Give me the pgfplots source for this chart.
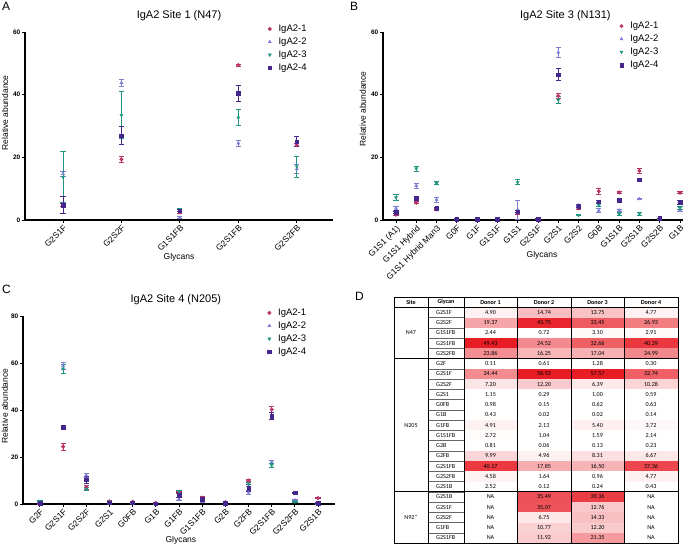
\documentclass[border=0pt]{standalone}
\usepackage{pgfplots}
\pgfplotsset{compat=1.18}
\usepackage{pgfplotstable}
\usepackage{fontspec}
\setmainfont{Liberation Sans}
\newfontfamily\tabfont{Carlito}
\definecolor{cA}{RGB}{184,52,102}
\definecolor{cB}{RGB}{125,125,212}
\definecolor{cC}{RGB}{32,150,128}
\definecolor{cD}{RGB}{68,38,140}
\definecolor{heat}{RGB}{232,28,36}

% site 1 (N47)
\pgfplotstableread{
x m1 e1 m2 e2 m3 e3 m4 e4
1 4.90 0.5 14.74 0.7 13.75 8.0 4.77 2.7
2 19.37 1.0 43.75 1.0 33.45 7.5 26.93 2.8
3 2.44 0.3 0.72 0.3 3.10 0.5 2.91 0.3
4 49.43 0.3 24.52 0.9 32.66 2.6 40.39 2.5
5 23.86 0.5 16.25 1.5 17.04 3.4 24.99 1.6
}\siteone

% site 3 (N131)
\pgfplotstableread{
x m1 e1 m2 e2 m3 e3 m4 e4
1 1.7 0.3 3.7 0.7 7.2 0.9 2.4 0.3
2 5.5 0.3 11.0 0.8 16.4 0.8 7.0 0.3
3 3.4 0.3 6.5 0.8 11.7 0.5 3.7 0.3
4 0.3 0.1 0.3 0.1 0.4 0.1 0.3 0.1
5 0.3 0.1 0.2 0.1 0.4 0.1 0.3 0.1
6 0.2 0.1 0.2 0.1 0.2 0.1 0.2 0.1
7 2.1 0.3 3.3 3.0 12.0 0.8 2.6 0.3
8 0.4 0.1 0.3 0.1 0.4 0.1 0.3 0.1
9 39.6 0.7 53.5 1.5 38.3 1.0 46.4 2.0
10 3.7 0.3 4.7 0.3 1.5 0.2 4.4 0.3
11 9.2 1.0 3.0 0.7 4.7 0.5 5.9 0.3
12 8.8 0.3 3.1 0.4 1.9 0.4 6.3 0.3
13 15.7 0.8 6.7 0.3 2.0 0.4 12.9 0.3
14 0.5 0.1 0.4 0.1 0.3 0.1 0.5 0.1
15 8.7 0.3 3.1 0.3 3.8 0.5 5.6 0.5
}\sitethree

% site 4 (N205)
\pgfplotstableread{
x m1 e1 m2 e2 m3 e3 m4 e4
1 0.11 0.1 0.61 0.1 1.28 0.2 0.30 0.1
2 24.44 1.5 58.92 1.5 57.57 1.8 32.74 0.5
3 7.20 0.8 12.20 0.8 6.39 0.8 10.28 1.5
4 1.15 0.2 0.29 0.1 1.00 0.2 0.59 0.1
5 0.98 0.1 0.15 0.1 0.62 0.1 0.63 0.1
6 0.43 0.1 0.02 0.1 0.02 0.1 0.14 0.1
7 4.91 0.5 2.13 0.6 5.40 0.5 3.72 1.0
8 2.72 0.3 1.04 0.2 1.59 0.3 2.14 0.3
9 0.81 0.1 0.06 0.1 0.13 0.1 0.23 0.1
10 9.99 0.6 4.96 1.0 8.31 1.0 6.67 1.5
11 40.17 1.3 17.85 0.8 16.50 0.8 37.36 1.5
12 4.58 0.3 1.64 0.2 0.96 0.2 4.77 0.3
13 2.52 0.3 0.12 0.1 0.24 0.1 0.43 0.1
}\sitefour

\pgfplotsset{
  prism/.style={
    scale only axis, anchor=south west, clip=false,
    axis x line*=bottom, axis y line*=left,
    axis line style={line width=1.1pt, black},
    tick align=outside, major tick length=3pt,
    every tick/.style={black, line width=0.9pt},
    ymin=0, height=188pt,
    /pgf/number format/assume math mode=true,
    yticklabel style={font=\fontsize{6.5}{7}\selectfont\bfseries, inner sep=1.5pt},
    xticklabel style={font=\fontsize{8.5}{9}\selectfont, rotate=45, anchor=north east, inner sep=1pt},
    title style={font=\fontsize{11}{12}\selectfont, anchor=center, yshift=10pt},
    label style={font=\fontsize{8.5}{9}\selectfont},
    legend style={draw=none, fill=none, font=\fontsize{9.5}{10}\selectfont,
      anchor=north west, row sep=0.8pt, column sep=6pt, inner sep=1pt,
      nodes={inner xsep=1pt}},
    legend cell align=left,
    legend entries={IgA2-1,IgA2-2,IgA2-3,IgA2-4},
  },
  ser/.style={only marks, mark size=1.8pt, color=#1,
    error bars/.cd, y dir=both, y explicit,
    error bar style={line width=0.9pt, #1},
    error mark=|,
    error mark options={mark size=2.6pt, line width=0.9pt, #1}},
}

\def\NAtext{NA}
\newcommand{\tfont}{\tabfont\fontsize{6.1}{7}\selectfont}
\newcommand{\tcell}[4]{% left, right, row, value
  \def\tmp{#4}%
  \ifx\tmp\NAtext\else
    \pgfmathsetmacro{\pc}{max(0,min(100,2.3*#4-5))}%
    \fill[heat!\pc] (#1,{250-10.25*#3}) rectangle (#2,{250-10.25*(#3+1)});
  \fi
  \node[font=\tfont, inner sep=0pt] at ({(#1+#2)/2},{250-10.25*(#3+0.5)}) {#4};
}
\newcommand{\trow}[6]{% row, glycan, d1..d4
  \node[font=\tfont, anchor=west, inner sep=0pt] at (436,{250-10.25*(#1+0.5)}) {#2};
  \tcell{464}{517}{#1}{#3}
  \tcell{517}{571}{#1}{#4}
  \tcell{571}{624}{#1}{#5}
  \tcell{624}{678}{#1}{#6}
  \draw[line width=0.4pt, gray!80!black] (428,{250-10.25*(#1+1)}) -- (464,{250-10.25*(#1+1)});
}

\begin{document}
\begin{tikzpicture}
\useasboundingbox (0,0) rectangle (696pt,547pt);

% panel letters
\node[anchor=base west, inner sep=0pt, font=\fontsize{12}{12}\selectfont] at (2pt,536pt) {A};
\node[anchor=base west, inner sep=0pt, font=\fontsize{12}{12}\selectfont] at (350pt,536pt) {B};
\node[anchor=base west, inner sep=0pt, font=\fontsize{12}{12}\selectfont] at (2pt,254pt) {C};
\node[anchor=base west, inner sep=0pt, font=\fontsize{12}{12}\selectfont] at (355pt,247pt) {D};

% A
\begin{axis}[prism, at={(25pt,327pt)}, width=308pt,
  xmin=0.35, xmax=5.62, ymax=60, ytick={0,20,40,60},
  xtick={1,...,5}, xticklabels={G2S1F,G2S2F,G1S1FB,G2S1FB,G2S2FB},
  title={IgA2 Site 1 (N47)},
  xlabel={Glycans}, ylabel={Relative abundance},
  xlabel style={at={(axis description cs:0.5,0)}, anchor=center, yshift=-37pt},
  ylabel style={at={(axis description cs:-0.065,0.57)}, anchor=center, rotate=0},
  legend style={at={(0.785,1.055)}}]
\addplot[mark=*, ser=cA] table[x=x, y=m1, y error=e1] {\siteone};
\addplot[mark=triangle*, ser=cB] table[x=x, y=m2, y error=e2] {\siteone};
\addplot[mark=triangle*, mark options={rotate=180}, ser=cC] table[x=x, y=m3, y error=e3] {\siteone};
\addplot[mark=square*, ser=cD] table[x=x, y=m4, y error=e4] {\siteone};
\end{axis}

% B
\begin{axis}[prism, at={(383pt,327pt)}, width=300pt,
  xmin=0.36, xmax=15.15, ymax=60, ytick={0,20,40,60},
  xtick={1,...,15}, xticklabels={G1S1 (A1),G1S1 Hybrid,G1S1 Hybrid Man3,G0F,G1F,G1S1F,G1S1,G2S1F,G2S1,G2S2,G0B,G1S1B,G2S1B,G2S2B,G1B},
  title={IgA2 Site 3 (N131)},
  title style={at={(0.608,1)}},
  xlabel={Glycans}, ylabel={Relative abundance},
  xlabel style={at={(axis description cs:0.53,0)}, anchor=center, yshift=-35pt},
  ylabel style={at={(axis description cs:-0.067,0.59)}, anchor=center, rotate=0},
  legend style={at={(0.785,1.07)}}]
\addplot[mark=*, ser=cA] table[x=x, y=m1, y error=e1] {\sitethree};
\addplot[mark=triangle*, ser=cB] table[x=x, y=m2, y error=e2] {\sitethree};
\addplot[mark=triangle*, mark options={rotate=180}, ser=cC] table[x=x, y=m3, y error=e3] {\sitethree};
\addplot[mark=square*, ser=cD] table[x=x, y=m4, y error=e4] {\sitethree};
\end{axis}

% C
\begin{axis}[prism, at={(23pt,43pt)}, width=312pt,
  xmin=0.27, xmax=13.73, ymax=80, ytick={0,20,40,60,80},
  xtick={1,...,13}, xticklabels={G2F,G2S1F,G2S2F,G2S1,G0FB,G1B,G1FB,G1S1FB,G2B,G2FB,G2S1FB,G2S2FB,G2S1B},
  title={IgA2 Site 4 (N205)},
  title style={at={(0.49,1)}},
  xlabel={Glycans}, ylabel={Relative abundance},
  xlabel style={at={(axis description cs:0.506,0)}, anchor=center, yshift=-36pt},
  ylabel style={at={(axis description cs:-0.058,0.52)}, anchor=center, rotate=0},
  legend style={at={(0.78,1.055)}}]
\addplot[mark=*, ser=cA] table[x=x, y=m1, y error=e1] {\sitefour};
\addplot[mark=triangle*, ser=cB] table[x=x, y=m2, y error=e2] {\sitefour};
\addplot[mark=triangle*, mark options={rotate=180}, ser=cC] table[x=x, y=m3, y error=e3] {\sitefour};
\addplot[mark=square*, ser=cD] table[x=x, y=m4, y error=e4] {\sitefour};
\end{axis}

% D: table
\begin{scope}[x=1pt, y=1pt]
  \begin{scope}[font=\tabfont\bfseries\fontsize{6.1}{7}\selectfont]
    \node[inner sep=0pt] at (411,244.9) {Site};
    \node[inner sep=0pt] at (446,244.9) {Glycan};
    \node[inner sep=0pt] at (490.5,244.9) {Donor 1};
    \node[inner sep=0pt] at (544,244.9) {Donor 2};
    \node[inner sep=0pt] at (597.5,244.9) {Donor 3};
    \node[inner sep=0pt] at (651,244.9) {Donor 4};
  \end{scope}
  \trow{1}{G2S1F}{4.90}{14.74}{13.75}{4.77}
  \trow{2}{G2S2F}{19.37}{43.75}{33.45}{26.93}
  \trow{3}{G1S1FB}{2.44}{0.72}{3.10}{2.91}
  \trow{4}{G2S1FB}{49.43}{24.52}{32.66}{40.39}
  \trow{5}{G2S2FB}{23.86}{16.25}{17.04}{24.99}
  \trow{6}{G2F}{0.11}{0.61}{1.28}{0.30}
  \trow{7}{G2S1F}{24.44}{58.92}{57.57}{32.74}
  \trow{8}{G2S2F}{7.20}{12.20}{6.39}{10.28}
  \trow{9}{G2S1}{1.15}{0.29}{1.00}{0.59}
  \trow{10}{G0FB}{0.98}{0.15}{0.62}{0.63}
  \trow{11}{G1B}{0.43}{0.02}{0.02}{0.14}
  \trow{12}{G1FB}{4.91}{2.13}{5.40}{3.72}
  \trow{13}{G1S1FB}{2.72}{1.04}{1.59}{2.14}
  \trow{14}{G2B}{0.81}{0.06}{0.13}{0.23}
  \trow{15}{G2FB}{9.99}{4.96}{8.31}{6.67}
  \trow{16}{G2S1FB}{40.17}{17.85}{16.50}{37.36}
  \trow{17}{G2S2FB}{4.58}{1.64}{0.96}{4.77}
  \trow{18}{G2S1B}{2.52}{0.12}{0.24}{0.43}
  \trow{19}{G2S1B}{NA}{35.49}{39.36}{NA}
  \trow{20}{G2S1F}{NA}{35.07}{12.76}{NA}
  \trow{21}{G2S2F}{NA}{6.75}{14.33}{NA}
  \trow{22}{G1FB}{NA}{10.77}{12.20}{NA}
  \trow{23}{G2S1FB}{NA}{11.92}{21.35}{NA}
  \begin{scope}[font=\tfont]
    \node[inner sep=0pt] at (411,{250-10.25*3.5}) {N47};
    \node[inner sep=0pt] at (411,{250-10.25*12.5}) {N205};
    \node[inner sep=0pt] at (411,{250-10.25*21.5}) {N92*};
  \end{scope}
  % vertical lines
  \foreach \xx in {428,464,517,571,624} \draw[line width=0.6pt] (\xx,250) -- (\xx,{250-10.25*24});
  % thick separators
  \draw[line width=1pt] (394,{250-10.25}) -- (678,{250-10.25});
  \draw[line width=1pt] (394,{250-10.25*6}) -- (678,{250-10.25*6});
  \draw[line width=1pt] (394,{250-10.25*19}) -- (678,{250-10.25*19});
  \draw[line width=1pt] (394,250) rectangle (678,{250-10.25*24});
\end{scope}
\end{tikzpicture}
\end{document}
